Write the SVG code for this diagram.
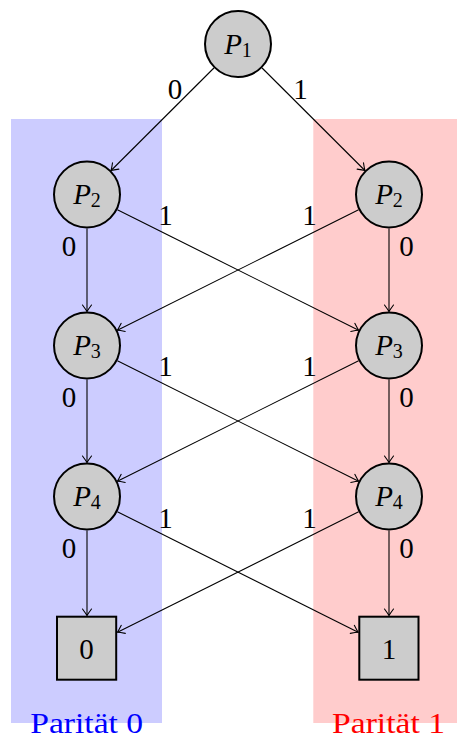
<svg xmlns="http://www.w3.org/2000/svg" width="457" height="742" viewBox="0 0 457 742" font-family="'Liberation Serif', 'DejaVu Serif', serif">
<style>
.node{fill:#cccccc;stroke:#000;stroke-width:2}
.edge{stroke:#000;stroke-width:1.1;fill:none;marker-end:url(#arr)}
text{font-family:'Liberation Serif','DejaVu Serif',serif;font-size:29px;fill:#000}
.lbl{text-anchor:middle}
.sub{font-size:20px}
</style>
<defs>
<marker id="arr" markerUnits="userSpaceOnUse" markerWidth="12" markerHeight="12" viewBox="-8 -6 9 12" refX="0" refY="0" orient="auto" overflow="visible">
<path d="M-6.5,-4.5 Q-2,-1.2 0,0 Q-2,1.2 -6.5,4.5" fill="none" stroke="#000" stroke-width="1.1" stroke-linecap="round"/>
</marker>
</defs>
<g id="backgrounds">
<rect x="11" y="119" width="151" height="604" fill="#ccccff"/>
<rect x="313.3" y="119" width="143.7" height="604" fill="#ffcccc"/>
<text x="86.7" y="733" class="lbl" style="fill:#0000ff" textLength="113" lengthAdjust="spacingAndGlyphs">Parität 0</text>
<text x="388.5" y="733" class="lbl" style="fill:#ff0000" textLength="113" lengthAdjust="spacingAndGlyphs">Parität 1</text>
</g>
<g id="connectors">
<line class="edge" x1="213.9" y1="68" x2="111.1" y2="170.5"/>
<line class="edge" x1="262.1" y1="68" x2="364.9" y2="170.5"/>
<line class="edge" x1="87" y1="228.5" x2="87" y2="311.5"/>
<line class="edge" x1="389" y1="228.5" x2="389" y2="311.5"/>
<line class="edge" x1="87" y1="379.5" x2="87" y2="462.5"/>
<line class="edge" x1="389" y1="379.5" x2="389" y2="462.5"/>
<line class="edge" x1="87" y1="530.5" x2="87" y2="615.5"/>
<line class="edge" x1="389" y1="530.5" x2="389" y2="615.5"/>
<line class="edge" x1="117.4" y1="209.7" x2="358.6" y2="330.3"/>
<line class="edge" x1="358.6" y1="209.7" x2="117.4" y2="330.3"/>
<line class="edge" x1="117.4" y1="360.7" x2="358.6" y2="481.3"/>
<line class="edge" x1="358.6" y1="360.7" x2="117.4" y2="481.3"/>
<line class="edge" x1="117.4" y1="511.7" x2="358.1" y2="632.3"/>
<line class="edge" x1="358.6" y1="511.7" x2="117.5" y2="632.3"/>
<text class="lbl" x="175" y="99">0</text>
<text class="lbl" x="300.5" y="99">1</text>
<text class="lbl" x="165.5" y="225">1</text>
<text class="lbl" x="69" y="255.5">0</text>
<text class="lbl" x="309.5" y="225">1</text>
<text class="lbl" x="406.5" y="255.5">0</text>
<text class="lbl" x="165.5" y="376">1</text>
<text class="lbl" x="69" y="406.5">0</text>
<text class="lbl" x="309.5" y="376">1</text>
<text class="lbl" x="406.5" y="406.5">0</text>
<text class="lbl" x="165.5" y="527.5">1</text>
<text class="lbl" x="69" y="558">0</text>
<text class="lbl" x="309.5" y="527.5">1</text>
<text class="lbl" x="406.5" y="558">0</text>
</g>
<g id="P1">
<circle class="node" cx="238" cy="44" r="33"/>
<text class="lbl" x="238" y="53.5"><tspan font-style="italic">P</tspan><tspan class="sub" dy="3">1</tspan></text>
</g>
<g id="P2_left">
<circle class="node" cx="87" cy="194.5" r="33"/>
<text class="lbl" x="87" y="204"><tspan font-style="italic">P</tspan><tspan class="sub" dy="3">2</tspan></text>
</g>
<g id="P2_right">
<circle class="node" cx="389" cy="194.5" r="33"/>
<text class="lbl" x="389" y="204"><tspan font-style="italic">P</tspan><tspan class="sub" dy="3">2</tspan></text>
</g>
<g id="P3_left">
<circle class="node" cx="87" cy="345.5" r="33"/>
<text class="lbl" x="87" y="355"><tspan font-style="italic">P</tspan><tspan class="sub" dy="3">3</tspan></text>
</g>
<g id="P3_right">
<circle class="node" cx="389" cy="345.5" r="33"/>
<text class="lbl" x="389" y="355"><tspan font-style="italic">P</tspan><tspan class="sub" dy="3">3</tspan></text>
</g>
<g id="P4_left">
<circle class="node" cx="87" cy="496.5" r="33"/>
<text class="lbl" x="87" y="506"><tspan font-style="italic">P</tspan><tspan class="sub" dy="3">4</tspan></text>
</g>
<g id="P4_right">
<circle class="node" cx="389" cy="496.5" r="33"/>
<text class="lbl" x="389" y="506"><tspan font-style="italic">P</tspan><tspan class="sub" dy="3">4</tspan></text>
</g>
<g id="leaf0">
<rect class="node" x="57" y="616.7" width="59.2" height="63"/>
<text class="lbl" x="86.6" y="658.5">0</text>
</g>
<g id="leaf1">
<rect class="node" x="359.3" y="616.7" width="59.2" height="63"/>
<text class="lbl" x="388.9" y="658.5">1</text>
</g>
</svg>
